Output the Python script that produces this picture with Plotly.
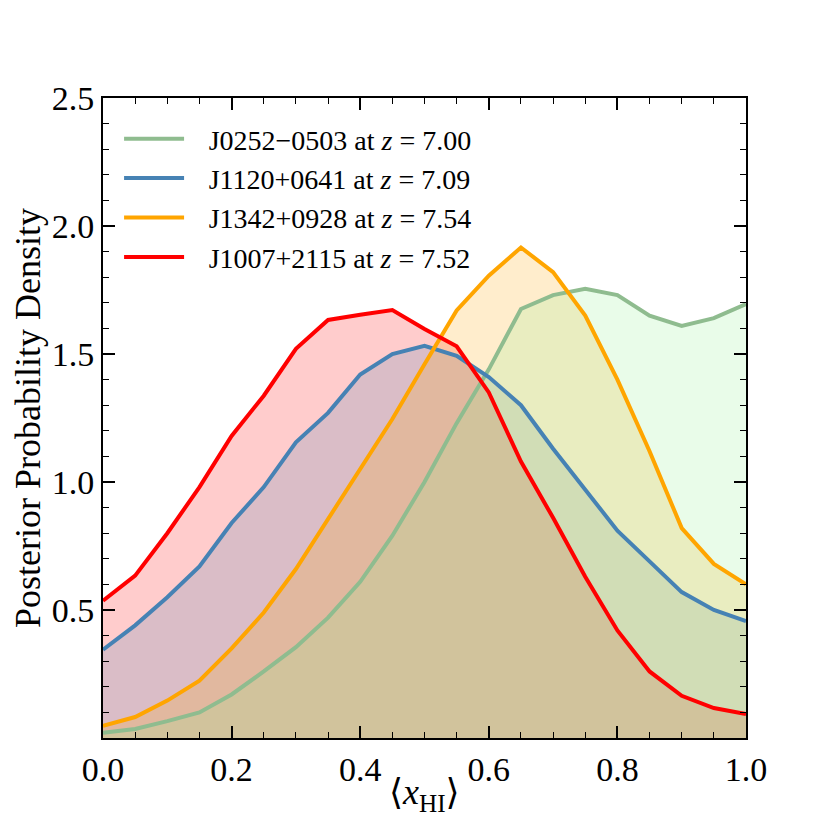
import plotly.graph_objects as go

x_hi = [0.0, 0.05, 0.1, 0.15, 0.2, 0.25, 0.3, 0.35, 0.4, 0.45, 0.5,
        0.55, 0.6, 0.65, 0.7, 0.75, 0.8, 0.85, 0.9, 0.95, 1.0]

# posterior densities
j0252 = [0.02, 0.035, 0.066, 0.10, 0.17, 0.26, 0.355, 0.47, 0.61, 0.79, 1.00,
         1.23, 1.44, 1.676, 1.73, 1.755, 1.73, 1.65, 1.61, 1.64, 1.695]
j1120 = [0.345, 0.44, 0.55, 0.67, 0.84, 0.98, 1.155, 1.27, 1.42, 1.50, 1.532,
         1.493, 1.41, 1.30, 1.13, 0.97, 0.81, 0.69, 0.57, 0.50, 0.457]
j1342 = [0.048, 0.082, 0.146, 0.224, 0.35, 0.49, 0.66, 0.855, 1.05, 1.246, 1.46,
         1.67, 1.806, 1.916, 1.82, 1.65, 1.40, 1.12, 0.82, 0.68, 0.60]
j1007 = [0.536, 0.634, 0.80, 0.98, 1.18, 1.337, 1.52, 1.633, 1.653, 1.672, 1.598,
         1.53, 1.35, 1.08, 0.86, 0.63, 0.42, 0.26, 0.165, 0.117, 0.094]

labels = ['J0252\u22120503 at <i>z</i> = 7.00',
          'J1120+0641 at <i>z</i> = 7.09',
          'J1342+0928 at <i>z</i> = 7.54',
          'J1007+2115 at <i>z</i> = 7.52']
series = [j0252, j1120, j1342, j1007]
line_colors = ['#8fbc8f', '#4682b4', '#ffa500', '#ff0000']
fill_colors = ['rgba(144,238,144,0.2)', 'rgba(70,130,180,0.2)',
               'rgba(255,165,0,0.2)', 'rgba(255,0,0,0.2)']

fig = go.Figure()

# fills first: red, blue, orange, green on top
for i in [3, 1, 2, 0]:
    fig.add_trace(go.Scatter(x=x_hi, y=series[i], mode='lines', fill='tozeroy',
                             fillcolor=fill_colors[i], line=dict(width=0),
                             showlegend=False, hoverinfo='skip'))

for i in range(4):
    fig.add_trace(go.Scatter(x=x_hi, y=series[i], mode='lines',
                             name='\u2002\u2009' + labels[i],
                             line=dict(color=line_colors[i], width=4)))

font = 'Liberation Serif, DejaVu Serif, serif'

fig.update_layout(
    width=830, height=830,
    margin=dict(l=95, r=92, t=90, b=100),
    plot_bgcolor='white', paper_bgcolor='white',
    font=dict(family=font, color='black', size=34),
    legend=dict(x=0.025, y=0.975, xanchor='left', yanchor='top',
                bgcolor='rgba(0,0,0,0)', font=dict(size=28),
                itemwidth=60, tracegroupgap=0),
)

# x label placed a little closer to the ticks than the axis title allows
fig.add_annotation(text='\u27e8<i>x</i><sub>HI</sub>\u27e9', xref='paper', yref='paper',
                   x=0.5, y=-0.089, xanchor='center', yanchor='middle',
                   showarrow=False, font=dict(size=36))

fig.update_xaxes(
    range=[0, 1], tickvals=[0, 0.2, 0.4, 0.6, 0.8, 1.0], tickformat='.1f',
    ticks='inside', ticklen=12, tickwidth=1.5, tickcolor='black',
    minor=dict(dtick=0.05, tick0=0, ticks='inside', ticklen=6, tickwidth=1.2, tickcolor='black'),
    showline=True, linecolor='black', linewidth=2, mirror='ticks',
    showgrid=False, zeroline=False,
)
fig.update_yaxes(
    range=[0, 2.5], tickvals=[0.5, 1.0, 1.5, 2.0, 2.5], tickformat='.1f',
    ticks='inside', ticklen=12, tickwidth=1.5, tickcolor='black',
    minor=dict(dtick=0.1, tick0=0, ticks='inside', ticklen=6, tickwidth=1.2, tickcolor='black'),
    showline=True, linecolor='black', linewidth=2, mirror='ticks',
    showgrid=False, zeroline=False,
    title=dict(text='Posterior Probability Density', font=dict(size=36), standoff=6),
)

fig.write_html("out.html")
